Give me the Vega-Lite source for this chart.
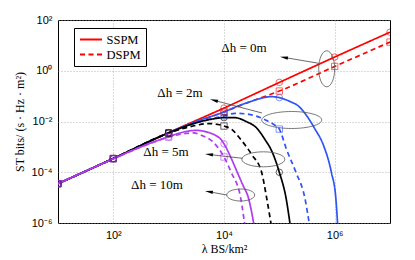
{
  "$schema": "https://vega.github.io/schema/vega-lite/v6.json",
  "width": 332,
  "height": 203,
  "autosize": {"type": "none"},
  "padding": {"left": 58, "top": 20, "right": 25, "bottom": 37},
  "background": "white",
  "config": {
    "view": {"stroke": "black", "strokeWidth": 1},
    "font": "Liberation Sans"
  },
  "datasets": {
    "curves": [
      {"lam": 10, "st": 3.548e-5, "h": "0m", "m": "SSPM"},
      {"lam": 100, "st": 3.467e-4, "h": "0m", "m": "SSPM"},
      {"lam": 1000, "st": 3.631e-3, "h": "0m", "m": "SSPM"},
      {"lam": 10000, "st": 0.03388, "h": "0m", "m": "SSPM"},
      {"lam": 100000, "st": 0.3467, "h": "0m", "m": "SSPM"},
      {"lam": 1000000, "st": 3.467, "h": "0m", "m": "SSPM"},
      {"lam": 10000000, "st": 33.11, "h": "0m", "m": "SSPM"},

      {"lam": 10, "st": 3.548e-5, "h": "0m", "m": "DSPM"},
      {"lam": 100, "st": 3.467e-4, "h": "0m", "m": "DSPM"},
      {"lam": 1000, "st": 3.548e-3, "h": "0m", "m": "DSPM"},
      {"lam": 10000, "st": 0.02399, "h": "0m", "m": "DSPM"},
      {"lam": 31623, "st": 0.0631, "h": "0m", "m": "DSPM"},
      {"lam": 100000, "st": 0.1585, "h": "0m", "m": "DSPM"},
      {"lam": 1000000, "st": 1.479, "h": "0m", "m": "DSPM"},
      {"lam": 10000000, "st": 13.49, "h": "0m", "m": "DSPM"},

      {"lam": 10, "st": 3.548e-5, "h": "2m", "m": "SSPM"},
      {"lam": 100, "st": 3.467e-4, "h": "2m", "m": "SSPM"},
      {"lam": 1000, "st": 3.631e-3, "h": "2m", "m": "SSPM"},
      {"lam": 3162, "st": 0.01, "h": "2m", "m": "SSPM"},
      {"lam": 10000, "st": 0.02399, "h": "2m", "m": "SSPM"},
      {"lam": 19953, "st": 0.04467, "h": "2m", "m": "SSPM"},
      {"lam": 31623, "st": 0.0631, "h": "2m", "m": "SSPM"},
      {"lam": 50119, "st": 0.08511, "h": "2m", "m": "SSPM"},
      {"lam": 70795, "st": 0.0955, "h": "2m", "m": "SSPM"},
      {"lam": 100000, "st": 0.0871, "h": "2m", "m": "SSPM"},
      {"lam": 158489, "st": 0.06026, "h": "2m", "m": "SSPM"},
      {"lam": 223872, "st": 0.03981, "h": "2m", "m": "SSPM"},
      {"lam": 316228, "st": 0.01622, "h": "2m", "m": "SSPM"},
      {"lam": 436516, "st": 5.248e-3, "h": "2m", "m": "SSPM"},
      {"lam": 630957, "st": 1.122e-3, "h": "2m", "m": "SSPM"},
      {"lam": 870964, "st": 1e-4, "h": "2m", "m": "SSPM"},
      {"lam": 1047129, "st": 1e-5, "h": "2m", "m": "SSPM"},
      {"lam": 1148154, "st": 5.012e-7, "h": "2m", "m": "SSPM"},

      {"lam": 10, "st": 3.548e-5, "h": "2m", "m": "DSPM"},
      {"lam": 100, "st": 3.467e-4, "h": "2m", "m": "DSPM"},
      {"lam": 1000, "st": 3.548e-3, "h": "2m", "m": "DSPM"},
      {"lam": 3162, "st": 8.913e-3, "h": "2m", "m": "DSPM"},
      {"lam": 10000, "st": 0.0166, "h": "2m", "m": "DSPM"},
      {"lam": 15849, "st": 0.0209, "h": "2m", "m": "DSPM"},
      {"lam": 25119, "st": 0.01995, "h": "2m", "m": "DSPM"},
      {"lam": 39811, "st": 0.01585, "h": "2m", "m": "DSPM"},
      {"lam": 56234, "st": 0.01148, "h": "2m", "m": "DSPM"},
      {"lam": 79433, "st": 7.586e-3, "h": "2m", "m": "DSPM"},
      {"lam": 100000, "st": 5.012e-3, "h": "2m", "m": "DSPM"},
      {"lam": 134896, "st": 7.943e-4, "h": "2m", "m": "DSPM"},
      {"lam": 199526, "st": 1e-4, "h": "2m", "m": "DSPM"},
      {"lam": 288403, "st": 1e-5, "h": "2m", "m": "DSPM"},
      {"lam": 363078, "st": 5.012e-7, "h": "2m", "m": "DSPM"},

      {"lam": 10, "st": 3.548e-5, "h": "5m", "m": "SSPM"},
      {"lam": 100, "st": 3.467e-4, "h": "5m", "m": "SSPM"},
      {"lam": 1000, "st": 3.548e-3, "h": "5m", "m": "SSPM"},
      {"lam": 3162, "st": 8.913e-3, "h": "5m", "m": "SSPM"},
      {"lam": 6310, "st": 0.01259, "h": "5m", "m": "SSPM"},
      {"lam": 10000, "st": 0.01413, "h": "5m", "m": "SSPM"},
      {"lam": 15849, "st": 0.01413, "h": "5m", "m": "SSPM"},
      {"lam": 25119, "st": 0.01, "h": "5m", "m": "SSPM"},
      {"lam": 39811, "st": 5.248e-3, "h": "5m", "m": "SSPM"},
      {"lam": 54954, "st": 1.95e-3, "h": "5m", "m": "SSPM"},
      {"lam": 72444, "st": 7.079e-4, "h": "5m", "m": "SSPM"},
      {"lam": 100000, "st": 1e-4, "h": "5m", "m": "SSPM"},
      {"lam": 131826, "st": 1e-5, "h": "5m", "m": "SSPM"},
      {"lam": 162181, "st": 5.012e-7, "h": "5m", "m": "SSPM"},

      {"lam": 10, "st": 3.548e-5, "h": "5m", "m": "DSPM"},
      {"lam": 100, "st": 3.467e-4, "h": "5m", "m": "DSPM"},
      {"lam": 1000, "st": 3.467e-3, "h": "5m", "m": "DSPM"},
      {"lam": 3162, "st": 7.079e-3, "h": "5m", "m": "DSPM"},
      {"lam": 5012, "st": 8.318e-3, "h": "5m", "m": "DSPM"},
      {"lam": 7079, "st": 7.943e-3, "h": "5m", "m": "DSPM"},
      {"lam": 10000, "st": 6.607e-3, "h": "5m", "m": "DSPM"},
      {"lam": 13804, "st": 4.898e-3, "h": "5m", "m": "DSPM"},
      {"lam": 19953, "st": 1.995e-3, "h": "5m", "m": "DSPM"},
      {"lam": 31623, "st": 5.012e-4, "h": "5m", "m": "DSPM"},
      {"lam": 47863, "st": 1e-4, "h": "5m", "m": "DSPM"},
      {"lam": 58884, "st": 1e-5, "h": "5m", "m": "DSPM"},
      {"lam": 74131, "st": 5.012e-7, "h": "5m", "m": "DSPM"},

      {"lam": 10, "st": 3.548e-5, "h": "10m", "m": "SSPM"},
      {"lam": 100, "st": 3.388e-4, "h": "10m", "m": "SSPM"},
      {"lam": 316, "st": 1e-3, "h": "10m", "m": "SSPM"},
      {"lam": 1000, "st": 2.512e-3, "h": "10m", "m": "SSPM"},
      {"lam": 1995, "st": 3.981e-3, "h": "10m", "m": "SSPM"},
      {"lam": 3162, "st": 4.467e-3, "h": "10m", "m": "SSPM"},
      {"lam": 5012, "st": 3.802e-3, "h": "10m", "m": "SSPM"},
      {"lam": 7079, "st": 2.818e-3, "h": "10m", "m": "SSPM"},
      {"lam": 8913, "st": 1.905e-3, "h": "10m", "m": "SSPM"},
      {"lam": 10000, "st": 1.318e-3, "h": "10m", "m": "SSPM"},
      {"lam": 13183, "st": 3.981e-4, "h": "10m", "m": "SSPM"},
      {"lam": 17378, "st": 1e-4, "h": "10m", "m": "SSPM"},
      {"lam": 21878, "st": 3.162e-5, "h": "10m", "m": "SSPM"},
      {"lam": 27542, "st": 1e-5, "h": "10m", "m": "SSPM"},
      {"lam": 36308, "st": 5.012e-7, "h": "10m", "m": "SSPM"},

      {"lam": 10, "st": 3.548e-5, "h": "10m", "m": "DSPM"},
      {"lam": 100, "st": 3.388e-4, "h": "10m", "m": "DSPM"},
      {"lam": 316, "st": 1e-3, "h": "10m", "m": "DSPM"},
      {"lam": 1000, "st": 2.399e-3, "h": "10m", "m": "DSPM"},
      {"lam": 1995, "st": 3.388e-3, "h": "10m", "m": "DSPM"},
      {"lam": 2818, "st": 3.548e-3, "h": "10m", "m": "DSPM"},
      {"lam": 3981, "st": 2.818e-3, "h": "10m", "m": "DSPM"},
      {"lam": 6310, "st": 1.585e-3, "h": "10m", "m": "DSPM"},
      {"lam": 7943, "st": 8.913e-4, "h": "10m", "m": "DSPM"},
      {"lam": 10000, "st": 3.981e-4, "h": "10m", "m": "DSPM"},
      {"lam": 13490, "st": 1e-4, "h": "10m", "m": "DSPM"},
      {"lam": 19953, "st": 1e-5, "h": "10m", "m": "DSPM"},
      {"lam": 24547, "st": 5.012e-7, "h": "10m", "m": "DSPM"}
    ],
    "markers": [
      {"lam": 10, "st": 3.548e-5, "h": "0m", "model": "SSPM"},
      {"lam": 100, "st": 3.467e-4, "h": "0m", "model": "SSPM"},
      {"lam": 1000, "st": 3.631e-3, "h": "0m", "model": "SSPM"},
      {"lam": 10000, "st": 0.03388, "h": "0m", "model": "SSPM"},
      {"lam": 100000, "st": 0.3467, "h": "0m", "model": "SSPM"},
      {"lam": 1000000, "st": 3.467, "h": "0m", "model": "SSPM"},
      {"lam": 10000000, "st": 33.11, "h": "0m", "model": "SSPM"},
      {"lam": 10, "st": 3.548e-5, "h": "0m", "model": "DSPM"},
      {"lam": 100, "st": 3.467e-4, "h": "0m", "model": "DSPM"},
      {"lam": 1000, "st": 3.548e-3, "h": "0m", "model": "DSPM"},
      {"lam": 10000, "st": 0.02399, "h": "0m", "model": "DSPM"},
      {"lam": 100000, "st": 0.1585, "h": "0m", "model": "DSPM"},
      {"lam": 1000000, "st": 1.479, "h": "0m", "model": "DSPM"},
      {"lam": 10000000, "st": 13.49, "h": "0m", "model": "DSPM"},
      {"lam": 10, "st": 3.548e-5, "h": "2m", "model": "SSPM"},
      {"lam": 100, "st": 3.467e-4, "h": "2m", "model": "SSPM"},
      {"lam": 1000, "st": 3.631e-3, "h": "2m", "model": "SSPM"},
      {"lam": 10000, "st": 0.02399, "h": "2m", "model": "SSPM"},
      {"lam": 100000, "st": 0.0871, "h": "2m", "model": "SSPM"},
      {"lam": 10, "st": 3.548e-5, "h": "2m", "model": "DSPM"},
      {"lam": 100, "st": 3.467e-4, "h": "2m", "model": "DSPM"},
      {"lam": 1000, "st": 3.548e-3, "h": "2m", "model": "DSPM"},
      {"lam": 10000, "st": 0.0166, "h": "2m", "model": "DSPM"},
      {"lam": 100000, "st": 5.012e-3, "h": "2m", "model": "DSPM"},
      {"lam": 10, "st": 3.548e-5, "h": "5m", "model": "SSPM"},
      {"lam": 100, "st": 3.467e-4, "h": "5m", "model": "SSPM"},
      {"lam": 1000, "st": 3.548e-3, "h": "5m", "model": "SSPM"},
      {"lam": 10000, "st": 0.01413, "h": "5m", "model": "SSPM"},
      {"lam": 100000, "st": 1e-4, "h": "5m", "model": "SSPM"},
      {"lam": 10, "st": 3.548e-5, "h": "5m", "model": "DSPM"},
      {"lam": 100, "st": 3.467e-4, "h": "5m", "model": "DSPM"},
      {"lam": 1000, "st": 3.467e-3, "h": "5m", "model": "DSPM"},
      {"lam": 10000, "st": 6.607e-3, "h": "5m", "model": "DSPM"},
      {"lam": 10, "st": 3.548e-5, "h": "10m", "model": "SSPM"},
      {"lam": 100, "st": 3.388e-4, "h": "10m", "model": "SSPM"},
      {"lam": 1000, "st": 2.512e-3, "h": "10m", "model": "SSPM"},
      {"lam": 10000, "st": 1.318e-3, "h": "10m", "model": "SSPM"},
      {"lam": 10, "st": 3.548e-5, "h": "10m", "model": "DSPM"},
      {"lam": 100, "st": 3.388e-4, "h": "10m", "model": "DSPM"},
      {"lam": 1000, "st": 2.399e-3, "h": "10m", "model": "DSPM"},
      {"lam": 10000, "st": 3.981e-4, "h": "10m", "model": "DSPM"}
    ],
    "arrows": [
      {"lam": 515000, "st": 1.968, "lam2": 121000, "st2": 3.36},
      {"lam": 48600, "st": 0.02163, "lam2": 6577, "st2": 0.0684},
      {"lam": 21430, "st": 3.548e-4, "lam2": 5358, "st2": 5.01e-4},
      {"lam": 11190, "st": 1.268e-5, "lam2": 5333, "st2": 1.71e-5}
    ],
    "labels": [
      {"lam": 23000, "st": 7.89, "label": "Δh = 0m"},
      {"lam": 1603, "st": 0.129, "label": "Δh = 2m"},
      {"lam": 895, "st": 6.46e-4, "label": "Δh = 5m"},
      {"lam": 615, "st": 3.15e-5, "label": "Δh = 10m"}
    ]
  },
  "encoding": {
    "x": {
      "field": "lam",
      "type": "quantitative",
      "scale": {"type": "log", "domain": [10, 10000000]},
      "axis": {
        "title": "λ BS/km²",
        "values": [100, 10000, 1000000],
        "labelExpr": "'10' + (datum.value < 1000 ? '²' : datum.value < 100000 ? '⁴' : '⁶')",
        "grid": true,
        "gridDash": [1, 2],
        "gridColor": "#999999",
        "gridWidth": 0.7,
        "ticks": false,
        "domain": false,
        "labelFont": "Liberation Sans",
        "labelFontSize": 11,
        "labelColor": "black",
        "labelPadding": 6,
        "labelFlush": false,
        "titleFont": "Liberation Serif",
        "titleFontSize": 12,
        "titleFontWeight": "normal",
        "titleColor": "black",
        "titlePadding": 3
      }
    },
    "y": {
      "field": "st",
      "type": "quantitative",
      "scale": {"type": "log", "domain": [0.000001, 100]},
      "axis": {
        "title": "ST bits/ (s · Hz · m²)",
        "values": [0.000001, 0.0001, 0.01, 1, 100],
        "labelExpr": "datum.value < 1e-5 ? '10⁻⁶' : datum.value < 1e-3 ? '10⁻⁴' : datum.value < 0.1 ? '10⁻²' : datum.value < 10 ? '10⁰' : '10²'",
        "grid": true,
        "gridDash": [1, 2],
        "gridColor": "#999999",
        "gridWidth": 0.7,
        "ticks": false,
        "domain": false,
        "labelFont": "Liberation Sans",
        "labelFontSize": 11,
        "labelColor": "black",
        "labelPadding": 6,
        "labelFlush": false,
        "titleFont": "Liberation Serif",
        "titleFontSize": 12,
        "titleFontWeight": "normal",
        "titleColor": "black",
        "titlePadding": 5
      }
    }
  },
  "layer": [
    {
      "data": {"name": "curves"},
      "mark": {"type": "line", "strokeWidth": 1.7, "clip": true, "interpolate": "monotone"},
      "encoding": {
        "color": {
          "field": "h",
          "type": "nominal",
          "scale": {"domain": ["0m", "2m", "5m", "10m"], "range": ["#ff0000", "#2f55f5", "#000000", "#b03cf0"]},
          "legend": null
        },
        "strokeDash": {
          "field": "m",
          "type": "nominal",
          "scale": {"domain": ["SSPM", "DSPM"], "range": [[1, 0], [5, 3.5]]},
          "legend": {
            "orient": "none",
            "legendX": 16,
            "legendY": 8,
            "title": null,
            "symbolType": "M -2 0 L 2 0",
            "symbolStrokeColor": "#ff0000",
            "symbolStrokeWidth": 1.8,
            "symbolSize": 121,
            "symbolOffset": 5.5,
            "labelFont": "Liberation Serif",
            "labelFontSize": 12.5,
            "labelColor": "black",
            "labelOffset": 9,
            "strokeColor": "black",
            "fillColor": "white",
            "padding": 5,
            "rowPadding": 2,
            "cornerRadius": 0
          }
        },
        "detail": {"field": "h"}
      }
    },
    {
      "data": {"name": "markers"},
      "transform": [{"filter": "datum.model == 'SSPM'"}],
      "mark": {"type": "point", "shape": "circle", "filled": false, "size": 42, "strokeWidth": 0.8, "opacity": 0.75, "clip": true},
      "encoding": {
        "color": {"field": "h", "type": "nominal", "legend": null}
      }
    },
    {
      "data": {"name": "markers"},
      "transform": [{"filter": "datum.model == 'DSPM'"}],
      "mark": {"type": "point", "shape": "square", "filled": false, "size": 40, "strokeWidth": 0.8, "opacity": 0.75, "clip": true},
      "encoding": {
        "color": {"field": "h", "type": "nominal", "legend": null}
      }
    },
    {
      "data": {"values": [{"lam": 718000, "st": 1.194}]},
      "mark": {"type": "point", "filled": false, "color": "#555555", "strokeWidth": 0.8, "opacity": 1, "size": 1296,
        "shape": "M 0.444 0 C 0.444 0.552 0.245 1 0 1 C -0.245 1 -0.444 0.552 -0.444 0 C -0.444 -0.552 -0.245 -1 0 -1 C 0.245 -1 0.444 -0.552 0.444 0 Z"}
    },
    {
      "data": {"values": [{"lam": 167500, "st": 0.01146}]},
      "mark": {"type": "point", "filled": false, "color": "#555555", "strokeWidth": 0.8, "opacity": 1, "size": 3600,
        "shape": "M 1 0 C 1 0.156 0.552 0.283 0 0.283 C -0.552 0.283 -1 0.156 -1 0 C -1 -0.156 -0.552 -0.283 0 -0.283 C 0.552 -0.283 1 -0.156 1 0 Z"}
    },
    {
      "data": {"values": [{"lam": 51400, "st": 3.236e-4}]},
      "mark": {"type": "point", "filled": false, "color": "#555555", "strokeWidth": 0.8, "opacity": 1, "size": 1849,
        "shape": "M 1 0 C 1 0.193 0.552 0.349 0 0.349 C -0.552 0.349 -1 0.193 -1 0 C -1 -0.193 -0.552 -0.349 0 -0.349 C 0.552 -0.349 1 -0.193 1 0 Z"}
    },
    {
      "data": {"values": [{"lam": 20050, "st": 1.268e-5}]},
      "mark": {"type": "point", "filled": false, "color": "#555555", "strokeWidth": 0.8, "opacity": 1, "size": 784,
        "shape": "M 1 0 C 1 0.237 0.552 0.429 0 0.429 C -0.552 0.429 -1 0.237 -1 0 C -1 -0.237 -0.552 -0.429 0 -0.429 C 0.552 -0.429 1 -0.237 1 0 Z"}
    },
    {
      "data": {"name": "arrows"},
      "mark": {"type": "rule", "color": "#444444", "strokeWidth": 0.8},
      "encoding": {
        "x2": {"field": "lam2"},
        "y2": {"field": "st2"}
      }
    },
    {
      "data": {"values": [{"lam": 121000, "st": 3.36}]},
      "mark": {"type": "point", "filled": true, "color": "black", "opacity": 1, "size": 64, "angle": 9.7,
        "shape": "M -1 0 L 1 -0.42 L 1 0.42 Z"}
    },
    {
      "data": {"values": [{"lam": 6577, "st": 0.0684}]},
      "mark": {"type": "point", "filled": true, "color": "black", "opacity": 1, "size": 64, "angle": 14.8,
        "shape": "M -1 0 L 1 -0.42 L 1 0.42 Z"}
    },
    {
      "data": {"values": [{"lam": 5358, "st": 5.01e-4}]},
      "mark": {"type": "point", "filled": true, "color": "black", "opacity": 1, "size": 64, "angle": 6.6,
        "shape": "M -1 0 L 1 -0.42 L 1 0.42 Z"}
    },
    {
      "data": {"values": [{"lam": 5333, "st": 1.71e-5}]},
      "mark": {"type": "point", "filled": true, "color": "black", "opacity": 1, "size": 64, "angle": 10.4,
        "shape": "M -1 0 L 1 -0.42 L 1 0.42 Z"}
    },
    {
      "data": {"name": "labels"},
      "mark": {"type": "text", "font": "Liberation Serif", "fontSize": 13, "color": "black", "align": "center", "baseline": "middle"},
      "encoding": {"text": {"field": "label"}}
    }
  ]
}
